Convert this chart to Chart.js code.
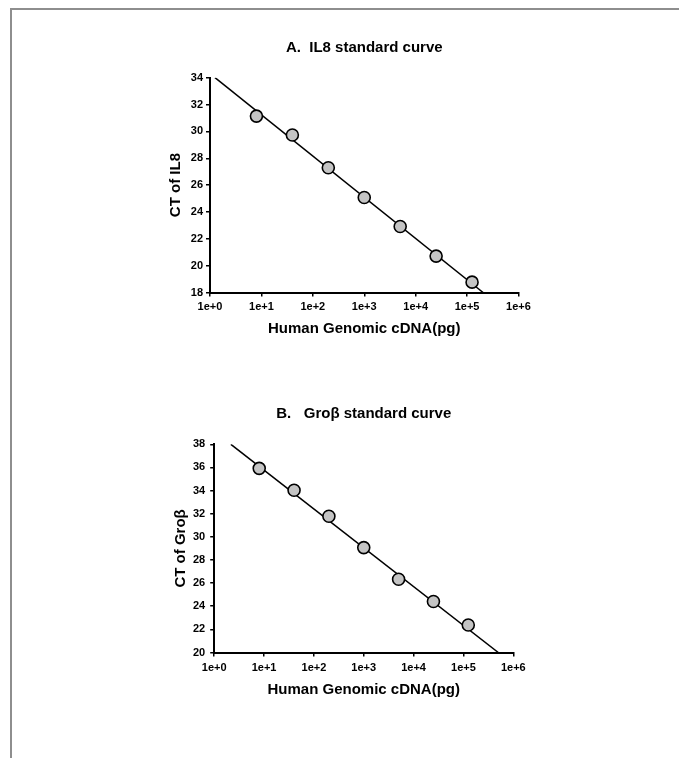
<!DOCTYPE html>
<html>
<head>
<meta charset="utf-8">
<script src="https://cdn.jsdelivr.net/npm/chart.js@4/dist/chart.umd.min.js"></script>
<style>
  html, body { margin: 0; padding: 0; background: #fff; width: 679px; height: 758px; overflow: hidden; }
  #frame { position: absolute; left: 10px; top: 8px; width: 800px; height: 900px;
           border-left: 2px solid #8e8e8e; border-top: 2px solid #8e8e8e; }
  canvas { position: absolute; left: 0; }
  #c1 { top: 0; }
  #c2 { top: 370px; }
</style>
</head>
<body>
<div id="frame"></div>
<canvas id="c1" width="679" height="370"></canvas>
<canvas id="c2" width="679" height="388"></canvas>
<script>
// ---- data ----
const dnaAmounts = [8, 40, 200, 1000, 5000, 25000, 125000];       // pg (x)
const ctIL8      = [31.14, 29.73, 27.29, 25.08, 22.92, 20.71, 18.77];
const ctGroB     = [35.92, 34.03, 31.78, 29.07, 26.33, 24.41, 22.38];
const fitIL8X    = [1.25, 205000];
const fitIL8Y    = [34, 18];
const fitGroBX   = [2.16, 500000];
const fitGroBY   = [38, 20];
const xTickValues = [1, 10, 100, 1000, 10000, 100000, 1000000];
const xTickLabels = ['1e+0', '1e+1', '1e+2', '1e+3', '1e+4', '1e+5', '1e+6'];
const titles      = ['A.  IL8 standard curve', 'B.   Gro\u03B2 standard curve'];
const yTitles     = ['CT of IL8', 'CT of Gro\u03B2'];
const xTitle      = 'Human Genomic cDNA(pg)';

Chart.defaults.font.family = "'Liberation Sans', Arial, sans-serif";
Chart.defaults.color = '#000';

function pts(xs, ys) { return xs.map((x, i) => ({ x: x, y: ys[i] })); }

function makeChart(id, cfg) {
  return new Chart(document.getElementById(id), {
    type: 'scatter',
    data: {
      datasets: [
        {
          data: pts(cfg.fitX, cfg.fitY),
          showLine: true,
          borderColor: '#000',
          borderWidth: 1.5,
          pointRadius: 0,
          pointHoverRadius: 0,
          order: 2
        },
        {
          data: pts(dnaAmounts, cfg.ys),
          pointRadius: 6,
          pointBackgroundColor: '#c4c4c4',
          pointBorderColor: '#000',
          pointBorderWidth: 1.6,
          order: 1
        }
      ]
    },
    options: {
      responsive: false,
      animation: false,
      devicePixelRatio: 1,
      layout: { padding: { left: 0, top: 0, right: cfg.padRight, bottom: cfg.padBottom } },
      plugins: {
        legend: { display: false },
        tooltip: { enabled: false },
        title: {
          display: true,
          text: cfg.title,
          fullSize: false,
          font: { size: 15, weight: 'bold', lineHeight: 1.2 },
          color: '#000',
          padding: { top: cfg.titleTop, bottom: cfg.titleBottom }
        }
      },
      scales: {
        x: {
          type: 'logarithmic',
          min: 1,
          max: 1000000,
          afterBuildTicks: s => { s.ticks = xTickValues.map(v => ({ value: v, major: true })); },
          afterFit: s => { s.height = cfg.xHeight; },
          ticks: {
            autoSkip: false,
            maxRotation: 0,
            padding: cfg.xTickPad,
            font: { size: 11, weight: 'bold', lineHeight: 1.2 },
            color: '#000',
            callback: (v, i) => xTickLabels[i]
          },
          grid: { display: true, drawOnChartArea: false, drawTicks: true, tickLength: 4, color: '#000', lineWidth: 1.5 },
          border: { display: true, color: '#000', width: 2 },
          title: {
            display: true,
            text: xTitle,
            font: { size: 15, weight: 'bold', lineHeight: 1.2 },
            color: '#000',
            padding: { top: 0, bottom: 0 }
          }
        },
        y: {
          min: cfg.yMin,
          max: cfg.yMax,
          afterFit: s => { s.width = cfg.yWidth; },
          ticks: {
            stepSize: 2,
            padding: cfg.yTickPad,
            font: { size: 11, weight: 'bold', lineHeight: 1.2 },
            color: '#000'
          },
          grid: { display: true, drawOnChartArea: false, drawTicks: true, tickLength: 4, color: '#000', lineWidth: 1.5 },
          border: { display: true, color: '#000', width: 2 },
          title: {
            display: true,
            text: cfg.yTitle,
            font: { size: 15, weight: 'bold', lineHeight: 1.2 },
            color: '#000',
            padding: { top: cfg.yTitlePad, bottom: 0 }
          }
        }
      }
    }
  });
}

makeChart('c1', {
  title: titles[0], yTitle: yTitles[0], ys: ctIL8, fitX: fitIL8X, fitY: fitIL8Y,
  yMin: 18, yMax: 34,
  padRight: 160.5, padBottom: 32.5, titleTop: 39, titleBottom: 20.7,
  xHeight: 45, xTickPad: 4, yWidth: 210, yTickPad: 3, yTitlePad: 167
});

makeChart('c2', {
  title: titles[1], yTitle: yTitles[1], ys: ctGroB, fitX: fitGroBX, fitY: fitGroBY,
  yMin: 20, yMax: 38,
  padRight: 165.7, padBottom: 59, titleTop: 35, titleBottom: 21.3,
  xHeight: 46.5, xTickPad: 4.6, yWidth: 214.2, yTickPad: 5, yTitlePad: 171.7
});
</script>
</body>
</html>
